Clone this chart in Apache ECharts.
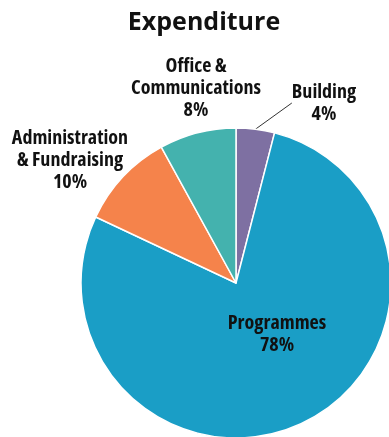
<!DOCTYPE html>
<html>
<head>
<meta charset="utf-8">
<script src="https://cdn.jsdelivr.net/npm/echarts@6/dist/echarts.min.js"></script>
<style>
  html, body { margin: 0; padding: 0; background: #ffffff; }
  #chart { width: 389px; height: 437px; }
</style>
</head>
<body>
<div id="chart"></div>
<script>
// Spending breakdown, clockwise from 12 o'clock
const categories = ['Building', 'Programmes', 'Administration\n& Fundraising', 'Office &\nCommunications'];
const shares = [4, 78, 10, 8];
const colors = ['#7e70a2', '#1a9ec6', '#f5834b', '#44b2ae'];

// Where each label block sits (centre of the text block)
const labelSpots = [
  { x: 324, y: 103 },
  { x: 277, y: 334 },
  { x: 70, y: 160 },
  { x: 196, y: 88 }
];

const chart = echarts.init(document.getElementById('chart'), null, { renderer: 'canvas' });

chart.setOption({
  animation: false,
  backgroundColor: '#ffffff',
  title: {
    text: 'Expenditure',
    left: 199,
    top: 5,
    textAlign: 'center',
    textStyle: {
      fontFamily: '"Open Sans", sans-serif',
      fontWeight: 'bold',
      fontSize: 25,
      color: '#111111'
    }
  },
  series: [{
    type: 'pie',
    center: [236, 283],
    radius: 155,
    startAngle: 90,
    clockwise: true,
    silent: true,
    itemStyle: { borderColor: '#ffffff', borderWidth: 1.5 },
    label: {
      show: true,
      position: 'outside',
      alignTo: 'none',
      overflow: 'none',
      formatter: '{b}\n{c}%',
      fontFamily: '"Open Sans", sans-serif',
      fontWeight: 'bold condensed',
      fontSize: 20,
      lineHeight: 22,
      color: '#111111',
      align: 'center'
    },
    labelLine: { show: false },
    labelLayout: function (params) {
      const spot = labelSpots[params.dataIndex];
      return { x: spot.x, y: spot.y, align: 'center', verticalAlign: 'middle' };
    },
    data: categories.map(function (name, i) {
      const item = { name: name, value: shares[i], itemStyle: { color: colors[i] } };
      if (i === 0) {
        item.labelLine = { show: true, length: 10, length2: 0, lineStyle: { color: '#333333', width: 1 } };
      }
      if (i === 1) {
        item.label = { position: 'inside' };
      }
      return item;
    })
  }]
});
</script>
</body>
</html>
